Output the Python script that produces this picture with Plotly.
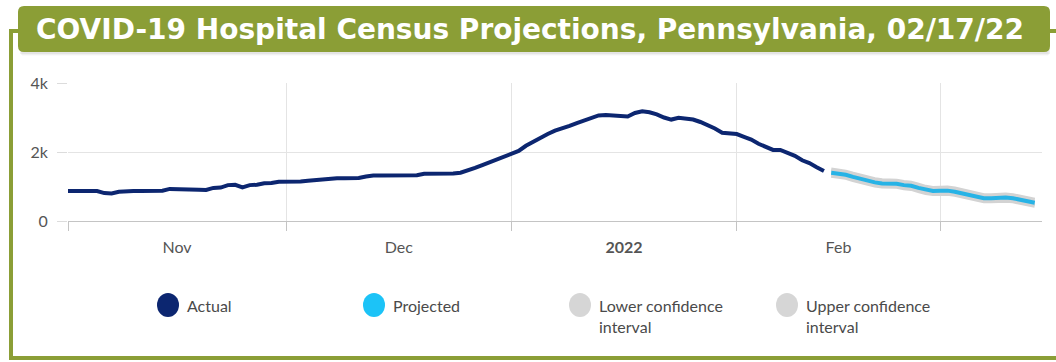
import pandas as pd
import plotly.graph_objects as go

# ---- data -------------------------------------------------------------
actual_start = "2021-11-01"
actual_census = [
    870, 870, 870, 870, 870, 810, 800, 850, 870, 870,
    870, 870, 870, 875, 930, 930, 930, 930, 905, 900,
    960, 970, 1040, 1050, 975, 1040, 1050, 1095, 1100, 1140,
    1140, 1140, 1145, 1170, 1190, 1210, 1240, 1240, 1240, 1240,
    1245, 1290, 1320, 1320, 1320, 1320, 1320, 1320, 1325, 1370,
    1370, 1370, 1370, 1375, 1400, 1460, 1540, 1620, 1700, 1800,
    1880, 1950, 2030, 2180, 2300, 2400, 2520, 2620, 2680, 2760,
    2840, 2910, 2990, 3060, 3070, 3060, 3030, 3030, 3130, 3180,
    3150, 3090, 3000, 2940, 2990, 2960, 2940, 2870, 2790, 2680,
    2560, 2550, 2520, 2440, 2360, 2240, 2150, 2060, 2060, 1980,
    1890, 1760, 1680, 1560, 1450,
]

projected_start = "2022-02-14"
projected_census = [
    1400, 1380, 1340, 1280, 1220, 1180, 1120, 1090, 1090, 1080,
    1040, 1020, 960, 900, 870, 880, 880, 850, 800, 760,
    720, 660, 660, 680, 680, 660, 620, 580, 530,
]
lower_ci = [
    1310, 1290, 1250, 1190, 1130, 1090, 1030, 1000, 1000, 990,
    950, 930, 870, 810, 780, 790, 790, 760, 710, 670,
    630, 570, 570, 590, 590, 570, 530, 490, 440,
]
upper_ci = [
    1490, 1470, 1430, 1370, 1310, 1270, 1210, 1180, 1180, 1170,
    1130, 1110, 1050, 990, 960, 970, 970, 940, 890, 850,
    810, 750, 750, 770, 770, 750, 710, 670, 620,
]

month_starts = ["2021-11-01", "2021-12-01", "2022-01-01", "2022-02-01", "2022-03-01"]
month_label_pos = ["2021-11-16", "2021-12-16 12:00", "2022-01-16 12:00", "2022-02-15"]
month_labels = ["Nov", "Dec", "<b>2022</b>", "Feb"]

y_ticks = [0, 2000, 4000]
y_tick_labels = ["0", "2k", "4k"]

legend_names = ["Actual", "Projected", "Lower confidence<br>interval", "Upper confidence<br>interval"]
legend_colors = ["#0c2670", "#1cc3f7", "#d6d6d6", "#d6d6d6"]

# ---- styling ----------------------------------------------------------
W, H = 1056, 362
L, R, T, B = 68, 14, 83, 141
PW, PH = W - L - R, H - T - B
GREEN = "#8b9e36"
NAVY = "#0c2670"
SKY = "#27b3e6"
BAND = "#d3d3d3"
FONT = "Lato"


def px(x):
    return (x - L) / PW


def py(y):
    return 1 - (y - T) / PH


actual_dates = pd.date_range(actual_start, periods=len(actual_census), freq="D")
proj_dates = pd.date_range(projected_start, periods=len(projected_census), freq="D")

fig = go.Figure()

# confidence band: lower bound, then upper bound filled down to it
fig.add_trace(go.Scatter(
    x=proj_dates, y=lower_ci, mode="lines", name="Lower confidence interval",
    line=dict(color=BAND, width=4), showlegend=False, hoverinfo="skip",
))
fig.add_trace(go.Scatter(
    x=proj_dates, y=upper_ci, mode="lines", name="Upper confidence interval",
    line=dict(color=BAND, width=4), fill="tonexty", fillcolor=BAND,
    showlegend=False, hoverinfo="skip",
))
fig.add_trace(go.Scatter(
    x=proj_dates, y=projected_census, mode="lines", name="Projected",
    line=dict(color=SKY, width=4), showlegend=False,
))
fig.add_trace(go.Scatter(
    x=actual_dates, y=actual_census, mode="lines", name="Actual",
    line=dict(color=NAVY, width=4), showlegend=False,
))

shapes = []

# green frame around the card
frame = (f"M {px(20)},{py(31)} L {px(11)},{py(31)} L {px(11)},{py(358)} "
         f"L {px(1056)},{py(358)}")
shapes.append(dict(type="path", xref="paper", yref="paper", path=frame,
                   line=dict(color=GREEN, width=4), layer="above"))
shapes.append(dict(type="line", xref="paper", yref="paper",
                   x0=px(1048), x1=px(1056), y0=py(31), y1=py(31),
                   line=dict(color=GREEN, width=4), layer="above"))

# soft shadow under the title banner
for i, op in enumerate([0.10, 0.07, 0.04]):
    shapes.append(dict(type="rect", xref="paper", yref="paper",
                       x0=px(20 + i), x1=px(1050 - i), y0=py(54 + i), y1=py(10),
                       fillcolor="#7a7a7a", opacity=op, line=dict(width=0),
                       layer="above"))


def rounded_rect(x0, y0, x1, y1, r):
    rx, ry = r / PW, r / PH
    a, b, c, d = px(x0), px(x1), py(y0), py(y1)  # c is top, d is bottom
    return (f"M {a + rx},{c} L {b - rx},{c} Q {b},{c} {b},{c - ry} "
            f"L {b},{d + ry} Q {b},{d} {b - rx},{d} L {a + rx},{d} "
            f"Q {a},{d} {a},{d + ry} L {a},{c - ry} Q {a},{c} {a + rx},{c} Z")


shapes.append(dict(type="path", xref="paper", yref="paper",
                   path=rounded_rect(18, 6, 1050, 52, 6),
                   fillcolor=GREEN, line=dict(width=0), layer="above"))

# legend markers
legend_x = [168, 374, 580, 787]
legend_y = 305
annotations = []
for cx, name, col in zip(legend_x, legend_names, legend_colors):
    shapes.append(dict(type="circle", xref="paper", yref="paper",
                       x0=px(cx - 11), x1=px(cx + 11), y0=py(legend_y + 12),
                       y1=py(legend_y - 12), fillcolor=col, line=dict(width=0)))
    annotations.append(dict(xref="paper", yref="paper", x=px(cx + 17),
                            y=py(legend_y - 11), xanchor="left", yanchor="top",
                            text=name, showarrow=False, align="left",
                            font=dict(family=FONT, size=16, color="#4a4a4a")))

annotations.append(dict(
    xref="paper", yref="paper", x=px(530), y=py(29), xanchor="center",
    yanchor="middle", showarrow=False,
    text="<b>COVID-19 Hospital Census Projections, Pennsylvania, 02/17/22</b>",
    font=dict(family="DejaVu Sans", size=28, color="white"),
))

fig.update_layout(
    width=W, height=H,
    margin=dict(l=L, r=R, t=T, b=B),
    paper_bgcolor="white", plot_bgcolor="white",
    shapes=shapes, annotations=annotations,
    showlegend=False,
    font=dict(family=FONT, size=15, color="#555555"),
)

fig.update_xaxes(
    type="date", range=["2021-11-01", "2022-03-15"],
    tickmode="array", tickvals=month_label_pos, ticktext=month_labels,
    ticks="", showgrid=False,
    tickfont=dict(family=FONT, size=16, color="#555555"),
    ticklabelstandoff=12,
    showline=True, linecolor="#c4c4c4", linewidth=1,
    minor=dict(tickmode="array", tickvals=month_starts, ticks="outside",
               ticklen=9, tickcolor="#c4c4c4", showgrid=True,
               gridcolor="#e4e4e4", gridwidth=1),
    zeroline=False, fixedrange=True,
)
fig.update_yaxes(
    range=[0, 4000], tickmode="array", tickvals=y_ticks, ticktext=y_tick_labels,
    showgrid=True, gridcolor="#e4e4e4", gridwidth=1, zeroline=False,
    ticks="outside", ticklen=10, tickcolor="#dcdcdc",
    tickfont=dict(family=FONT, size=16, color="#555555"),
    ticklabelstandoff=6, fixedrange=True,
)

fig.write_html("out.html")
